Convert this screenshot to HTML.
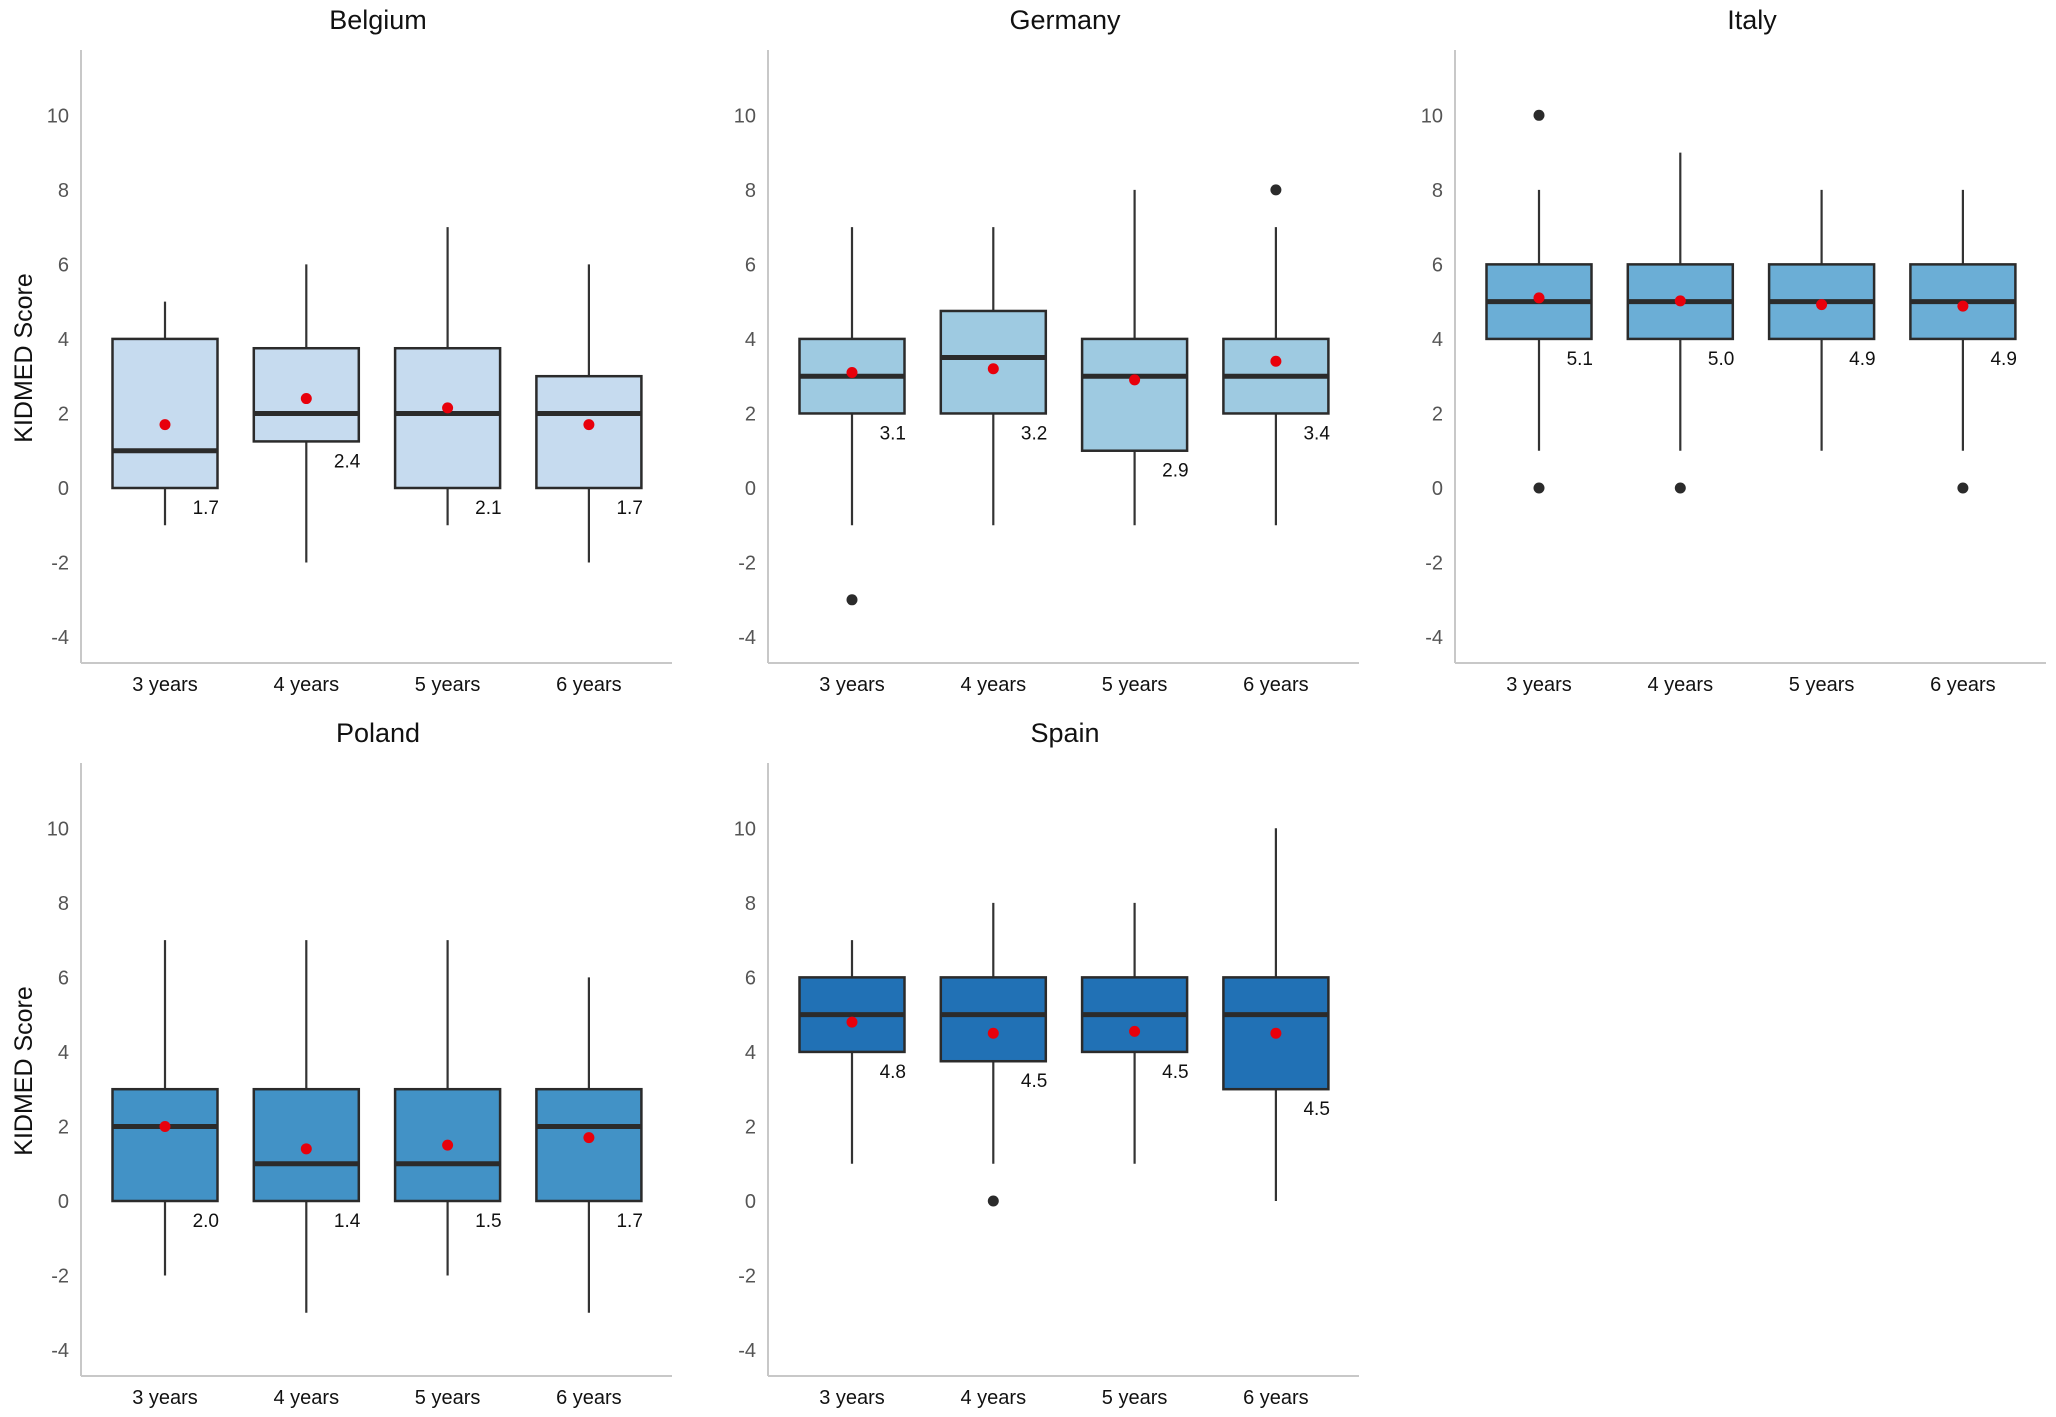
<!DOCTYPE html>
<html><head><meta charset="utf-8"><style>
html,body{margin:0;padding:0;background:#fff;}
svg{display:block;font-family:"Liberation Sans",Arial,sans-serif;}
</style></head><body>
<svg id="chart" width="2056" height="1417" viewBox="0 0 2056 1417" xmlns="http://www.w3.org/2000/svg"></svg>
<script>
const countries = ["Belgium","Germany","Italy","Poland","Spain"];
const ageGroups = ["3 years","4 years","5 years","6 years"];
const boxColors = ["#c6dbef","#9ecae1","#6baed6","#4292c6","#2171b5"];
const yTicks = [-4,-2,0,2,4,6,8,10];
// [min, q1, median, q3, max] per country per age group
const belgiumStats = [[-1,0,1,4,5],[-2,1.25,2,3.75,6],[-1,0,2,3.75,7],[-2,0,2,3,6]];
const germanyStats = [[-1,2,3,4,7],[-1,2,3.5,4.75,7],[-1,1,3,4,8],[-1,2,3,4,7]];
const italyStats = [[1,4,5,6,8],[1,4,5,6,9],[1,4,5,6,8],[1,4,5,6,8]];
const polandStats = [[-2,0,2,3,7],[-3,0,1,3,7],[-2,0,1,3,7],[-3,0,2,3,6]];
const spainStats = [[1,4,5,6,7],[1,3.75,5,6,8],[1,4,5,6,8],[0,3,5,6,10]];
const belgiumMeans = [1.7,2.4,2.15,1.7];
const germanyMeans = [3.1,3.2,2.9,3.4];
const italyMeans = [5.1,5.02,4.92,4.88];
const polandMeans = [2.0,1.4,1.5,1.7];
const spainMeans = [4.8,4.5,4.55,4.5];
const belgiumLabels = ["1.7","2.4","2.1","1.7"];
const germanyLabels = ["3.1","3.2","2.9","3.4"];
const italyLabels = ["5.1","5.0","4.9","4.9"];
const polandLabels = ["2.0","1.4","1.5","1.7"];
const spainLabels = ["4.8","4.5","4.5","4.5"];
const belgiumOutliers = [[],[],[],[]];
const germanyOutliers = [[-3],[],[],[8]];
const italyOutliers = [[10,0],[0],[],[0]];
const polandOutliers = [[],[],[],[]];
const spainOutliers = [[],[0],[],[]];

const allStats=[belgiumStats,germanyStats,italyStats,polandStats,spainStats];
const allMeans=[belgiumMeans,germanyMeans,italyMeans,polandMeans,spainMeans];
const allLabels=[belgiumLabels,germanyLabels,italyLabels,polandLabels,spainLabels];
const allOut=[belgiumOutliers,germanyOutliers,italyOutliers,polandOutliers,spainOutliers];

const svg=document.getElementById('chart');
const NS="http://www.w3.org/2000/svg";
function mk(tag,attrs,parent,text){const e=document.createElementNS(NS,tag);for(const k in attrs)e.setAttribute(k,attrs[k]);if(text!==undefined)e.textContent=text;parent.appendChild(e);return e;}

countries.forEach((c,pi)=>{
  const col=pi%3,row=Math.floor(pi/3);
  const ox=81+col*687, oy=row*713;
  const y=v=>oy+488-v*37.27;
  const x=i=>ox+84+i*141.3;
  const g=mk('g',{},svg);
  
  
  const t=mk('text',{x:ox+297,y:oy+29,'text-anchor':'middle','font-size':27,fill:'#111'},g,c);
  
  
  const ya=mk('line',{x1:ox,y1:oy+50,x2:ox,y2:oy+663,stroke:'#c8c8c8','stroke-width':2},g);
  
  
  const xa=mk('line',{x1:ox,y1:oy+663,x2:ox+591,y2:oy+663,stroke:'#c8c8c8','stroke-width':2},g);
  
  
  yTicks.forEach(v=>{
    const tt=mk('text',{x:ox-12,y:y(v)+7,'text-anchor':'end','font-size':20,fill:'#555'},g,String(v));
    
    
  });
  if(col===0){
    const yl=mk('text',{x:0,y:0,transform:`translate(32,${oy+358}) rotate(-90)`,'text-anchor':'middle','font-size':25,fill:'#111'},g,'KIDMED Score');
    
    
  }
  ageGroups.forEach((a,i)=>{
    const s=allStats[pi][i], cx=x(i), w=105;
    const xl=mk('text',{x:cx,y:oy+691,'text-anchor':'middle','font-size':20,fill:'#111'},g,a);
    
    
    const wh=mk('line',{x1:cx,y1:y(s[0]),x2:cx,y2:y(s[4]),stroke:'#333','stroke-width':2.2},g);
    
    
    const b=mk('rect',{x:cx-w/2,y:y(s[3]),width:w,height:y(s[1])-y(s[3]),fill:boxColors[pi],stroke:'#2b2b2b','stroke-width':2.5},g);
    
    
    const md=mk('line',{x1:cx-w/2,y1:y(s[2]),x2:cx+w/2,y2:y(s[2]),stroke:'#2b2b2b','stroke-width':5},g);
    
    
    allOut[pi][i].forEach(o=>{
      const oc=mk('circle',{cx:cx,cy:y(o),r:5.5,fill:'#2b2b2b'},g);
      
      
    });
    const mn=mk('circle',{cx:cx,cy:y(allMeans[pi][i]),r:5.5,fill:'#e8000b'},g);
    
    
    const vl=mk('text',{x:cx+54,y:y(s[1])+26,'text-anchor':'end','font-size':19,fill:'#111'},g,allLabels[pi][i]);
    
    
  });
});
</script>
</body></html>
